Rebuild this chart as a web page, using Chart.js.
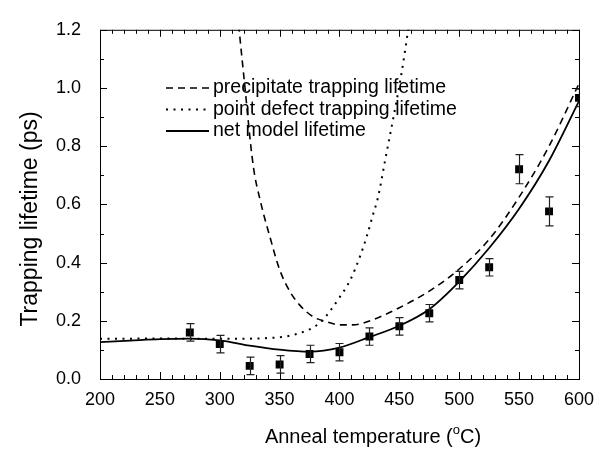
<!DOCTYPE html>
<html>
<head>
<meta charset="utf-8">
<script src="https://cdn.jsdelivr.net/npm/chart.js@4.4.0/dist/chart.umd.min.js"></script>
<style>
  html, body { margin: 0; padding: 0; background: #fff; }
</style>
</head>
<body>
<canvas id="trapping" width="604" height="454"></canvas>
<script>
// measured trapping lifetimes (ps) vs anneal temperature (C)
const annealTemps = [275, 300, 325, 350, 375, 400, 425, 450, 475, 500, 525, 550, 575, 600];
const lifetimes = [0.16, 0.12, 0.045, 0.05, 0.086, 0.092, 0.146, 0.181, 0.226, 0.34, 0.384, 0.721, 0.576, 0.966];
const lifetimeErr = [0.03, 0.03, 0.03, 0.03, 0.03, 0.03, 0.03, 0.03, 0.03, 0.03, 0.03, 0.05, 0.05, 0.03];

// model curves
const precipTemps = [314, 317, 320, 328, 334, 342, 350, 359, 367, 378, 389, 400, 411, 428, 450, 475, 500, 525, 550, 575, 600];
const precipVals = [1.3, 1.167, 1.045, 0.732, 0.61, 0.487, 0.376, 0.298, 0.253, 0.214, 0.197, 0.186, 0.186, 0.204, 0.245, 0.302, 0.378, 0.48, 0.625, 0.8, 1.015];

const defectTemps = [200, 250, 300, 342, 367, 384, 392, 400, 409, 417, 423, 428, 432, 438, 452, 457, 461];
const defectVals = [0.138, 0.139, 0.138, 0.141, 0.158, 0.194, 0.233, 0.28, 0.34, 0.42, 0.493, 0.565, 0.621, 0.749, 1.056, 1.19, 1.3];

const netTemps = [200, 225, 250, 275, 300, 325, 350, 375, 400, 425, 450, 475, 500, 525, 550, 575, 600];
const netVals = [0.127, 0.132, 0.137, 0.139, 0.133, 0.115, 0.101, 0.094, 0.108, 0.144, 0.183, 0.24, 0.335, 0.45, 0.585, 0.75, 0.955];

const xTitle = ["Anneal temperature (", "o", "C)"];
const yTitle = "Trapping lifetime (ps)";

const xTicksMinor = 5;
const yTicksMinor = 2;
const fontFamily = "'Liberation Sans', Arial, sans-serif";

const pts = (xs, ys) => xs.map((x, i) => ({ x: x, y: ys[i] }));

const frameTicks = {
  id: "frameTicks",
  afterDatasetsDraw(chart) {
    const { ctx, chartArea: a, scales } = chart;
    ctx.save();
    ctx.strokeStyle = "#000";
    ctx.lineWidth = 1;
    ctx.strokeRect(a.left + 0.5, a.top + 0.5, a.right - a.left, a.bottom - a.top);
    ctx.beginPath();
    // inward ticks on all four sides
    const xs = scales.x.ticks.map((t) => t.value);
    const xStep = (xs[1] - xs[0]) / xTicksMinor;
    for (let v = xs[0]; v <= xs[xs.length - 1] + 1e-9; v += xStep) {
      const k = Math.round((v - xs[0]) / xStep);
      const len = k % xTicksMinor === 0 ? 7 : 4;
      const px = Math.round(scales.x.getPixelForValue(v)) + 0.5;
      ctx.moveTo(px, a.bottom);
      ctx.lineTo(px, a.bottom - len);
      ctx.moveTo(px, a.top);
      ctx.lineTo(px, a.top + len);
    }
    const ys = scales.y.ticks.map((t) => t.value);
    const yStep = (ys[1] - ys[0]) / yTicksMinor;
    for (let v = ys[0]; v <= ys[ys.length - 1] + 1e-9; v += yStep) {
      const k = Math.round((v - ys[0]) / yStep);
      const len = k % yTicksMinor === 0 ? 7 : 4;
      const py = Math.round(scales.y.getPixelForValue(v)) + 0.5;
      ctx.moveTo(a.left, py);
      ctx.lineTo(a.left + len, py);
      ctx.moveTo(a.right, py);
      ctx.lineTo(a.right - len, py);
    }
    ctx.stroke();
    ctx.restore();
  },
};

const errorBars = {
  id: "errorBars",
  afterDatasetsDraw(chart) {
    const { ctx, scales, chartArea: a } = chart;
    chart.data.datasets.forEach((ds) => {
      if (!ds.errors) return;
      ctx.save();
      ctx.beginPath();
      ctx.rect(a.left, a.top, a.right - a.left, a.bottom - a.top + 4);
      ctx.clip();
      ctx.strokeStyle = "#222";
      ctx.lineWidth = 1.2;
      ctx.beginPath();
      ds.data.forEach((p, i) => {
        const px = Math.round(scales.x.getPixelForValue(p.x)) + 0.5;
        const top = scales.y.getPixelForValue(p.y + ds.errors[i]);
        const bot = scales.y.getPixelForValue(p.y - ds.errors[i]);
        ctx.moveTo(px, top);
        ctx.lineTo(px, bot);
        ctx.moveTo(px - 4, top);
        ctx.lineTo(px + 4, top);
        ctx.moveTo(px - 4, bot);
        ctx.lineTo(px + 4, bot);
      });
      ctx.stroke();
      ctx.restore();
    });
  },
};

const curveLegend = {
  id: "curveLegend",
  afterDraw(chart) {
    const { ctx } = chart;
    ctx.save();
    ctx.font = "19.5px " + fontFamily;
    ctx.textBaseline = "middle";
    ctx.fillStyle = "#000";
    let row = 0;
    chart.data.datasets.forEach((ds) => {
      if (!ds.inLegend) return;
      const y = 88 + row * 21.5;
      ctx.strokeStyle = "#000";
      ctx.lineWidth = ds.borderWidth;
      ctx.setLineDash(ds.borderDash || []);
      ctx.beginPath();
      ctx.moveTo(166, y);
      ctx.lineTo(209, y);
      ctx.stroke();
      ctx.setLineDash([]);
      ctx.fillText(ds.label, 213, y);
      row++;
    });
    ctx.restore();
  },
};

// axis titles (the original centres them on the page, not the axis)
const axisTitles = {
  id: "axisTitles",
  afterDraw(chart) {
    const { ctx } = chart;
    ctx.save();
    ctx.fillStyle = "#000";
    ctx.textBaseline = "middle";

    ctx.save();
    ctx.translate(31, 219);
    ctx.rotate(-Math.PI / 2);
    ctx.textAlign = "center";
    ctx.font = "23px " + fontFamily;
    ctx.fillText(yTitle, 0, 0);
    ctx.restore();

    const big = "20px " + fontFamily;
    const small = "13px " + fontFamily;
    ctx.font = big;
    const w0 = ctx.measureText(xTitle[0]).width;
    const w2 = ctx.measureText(xTitle[2]).width;
    ctx.font = small;
    const w1 = ctx.measureText(xTitle[1]).width;
    let x = 373 - (w0 + w1 + w2) / 2;
    const y = 437;
    ctx.textAlign = "left";
    ctx.font = big;
    ctx.fillText(xTitle[0], x, y);
    x += w0;
    ctx.font = small;
    ctx.fillText(xTitle[1], x, y - 7);
    x += w1;
    ctx.font = big;
    ctx.fillText(xTitle[2], x, y);
    ctx.restore();
  },
};

const configTrapping = {
  type: "scatter",
  data: {
    datasets: [
      {
        label: "precipitate trapping lifetime",
        type: "line",
        data: pts(precipTemps, precipVals),
        borderColor: "#000",
        borderWidth: 1.6,
        borderDash: [7, 5],
        pointRadius: 0,
        cubicInterpolationMode: "monotone",
        inLegend: true,
      },
      {
        label: "point defect trapping lifetime",
        type: "line",
        data: pts(defectTemps, defectVals),
        borderColor: "#000",
        borderWidth: 2,
        borderDash: [2, 5.5],
        pointRadius: 0,
        cubicInterpolationMode: "monotone",
        inLegend: true,
      },
      {
        label: "net model lifetime",
        type: "line",
        data: pts(netTemps, netVals),
        borderColor: "#000",
        borderWidth: 1.8,
        pointRadius: 0,
        cubicInterpolationMode: "monotone",
        inLegend: true,
      },
      {
        label: "measured",
        data: pts(annealTemps, lifetimes),
        errors: lifetimeErr,
        pointStyle: "rect",
        pointRadius: 5.6,
        backgroundColor: "#000",
        borderColor: "#000",
        borderWidth: 0,
        clip: 0,
      },
    ],
  },
  options: {
    responsive: false,
    animation: false,
    devicePixelRatio: 1,
    layout: { padding: { top: 20, right: 25, left: 0, bottom: 0 } },
    plugins: { legend: { display: false }, tooltip: { enabled: false } },
    scales: {
      x: {
        type: "linear",
        min: 200,
        max: 600,
        grid: { display: false, drawTicks: false },
        border: { display: false },
        ticks: {
          stepSize: 50,
          padding: 10,
          color: "#000",
          font: { family: fontFamily, size: 18 },
        },
        afterFit: (scale) => { scale.height = 75; },
      },
      y: {
        min: 0,
        max: 1.2,
        grid: { display: false, drawTicks: false },
        border: { display: false },
        ticks: {
          stepSize: 0.2,
          padding: 19,
          color: "#000",
          font: { family: fontFamily, size: 18 },
          callback: (v) => v.toFixed(1),
        },
        afterFit: (scale) => { scale.width = 100; },
      },
    },
  },
  plugins: [frameTicks, errorBars, curveLegend, axisTitles],
};

const trapping = new Chart(document.getElementById("trapping"), configTrapping);
</script>
</body>
</html>
